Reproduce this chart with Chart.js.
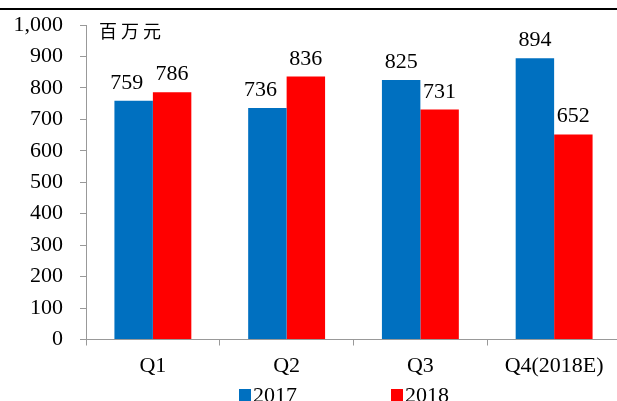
<!DOCTYPE html>
<html>
<head>
<meta charset="utf-8">
<script src="https://cdn.jsdelivr.net/npm/chart.js@4.4.0/dist/chart.umd.min.js"></script>
<style>
  html, body { margin: 0; padding: 0; background: #fff; overflow: hidden; }
  #wrap { position: relative; width: 617px; height: 401px; overflow: hidden; }
  #topline { position: absolute; left: 0; top: 8px; width: 617px; height: 2px; background: #000; }
  #chart { position: absolute; left: 0; top: 0; }
</style>
</head>
<body>
<div id="wrap">
  <canvas id="chart" width="630" height="415"></canvas>
  <div id="topline"></div>
</div>
<script>
const categories = ["Q1", "Q2", "Q3", "Q4(2018E)"];
const values2017 = [759, 736, 825, 894];
const values2018 = [786, 836, 731, 652];
const yTicks = [0, 100, 200, 300, 400, 500, 600, 700, 800, 900, 1000];
const unitLabel = "百万元";

// the report nudged a couple of labels left so they don't touch
const labelShift2017 = [-7, -7, 0, 0];

const serif = "'Liberation Serif', 'Times New Roman', serif";
const axisColor = "#999";

// value labels over each bar
const barLabels = {
  id: "barLabels",
  afterDatasetsDraw(chart) {
    const ctx = chart.ctx;
    ctx.save();
    ctx.font = "22px " + serif;
    ctx.fillStyle = "#000";
    ctx.textAlign = "center";
    ctx.textBaseline = "alphabetic";
    chart.data.datasets.forEach((ds, i) => {
      chart.getDatasetMeta(i).data.forEach((bar, j) => {
        const dx = i === 0 ? labelShift2017[j] : 0;
        ctx.fillText(ds.data[j], bar.x + dx, bar.y - 12);
      });
    });
    ctx.restore();
  }
};

// unit text in the corner + legend at the bottom
const extras = {
  id: "extras",
  afterDraw(chart) {
    const ctx = chart.ctx;
    const area = chart.chartArea;
    ctx.save();
    ctx.fillStyle = "#000";
    ctx.font = "18px 'Noto Sans CJK SC'";
    ctx.textBaseline = "middle";
    ctx.textAlign = "left";
    [...unitLabel].forEach((ch, k) => {
      ctx.fillText(ch, area.left + 13 + k * 22, area.top + 6);
    });

    ctx.font = "22px " + serif;
    ctx.textBaseline = "alphabetic";
    const startX = [239, 391];
    chart.data.datasets.forEach((ds, i) => {
      ctx.fillStyle = ds.backgroundColor;
      ctx.fillRect(startX[i], 389, 12, 12);
      ctx.fillStyle = "#000";
      ctx.fillText(ds.label, startX[i] + 14, 401.5);
    });
    ctx.restore();
  }
};

new Chart(document.getElementById("chart"), {
  type: "bar",
  data: {
    labels: categories,
    datasets: [
      { label: "2017", data: values2017, backgroundColor: "#0070C0" },
      { label: "2018", data: values2018, backgroundColor: "#FF0000" }
    ]
  },
  options: {
    responsive: false,
    animation: false,
    events: [],
    layout: { padding: { left: 0, right: 9, top: 25, bottom: 35.5 } },
    datasets: {
      bar: { barPercentage: 1, categoryPercentage: 0.575 }
    },
    plugins: {
      legend: { display: false },
      tooltip: { enabled: false }
    },
    scales: {
      x: {
        grid: { drawOnChartArea: false, color: axisColor, tickLength: 6, offset: true },
        border: { color: axisColor, width: 1 },
        ticks: { color: "#000", font: { family: serif, size: 22 }, padding: 8 },
        afterFit(scale) { scale.height = 40; }
      },
      y: {
        min: 0,
        max: 1000,
        afterBuildTicks(scale) { scale.ticks = yTicks.map(v => ({ value: v })); },
        grid: { drawOnChartArea: false, color: axisColor, tickLength: 6 },
        border: { color: axisColor, width: 1 },
        ticks: {
          color: "#000",
          font: { family: serif, size: 22 },
          padding: 17,
          callback: v => v.toLocaleString("en-US")
        },
        afterFit(scale) {
          scale.width = 86;
          scale.paddingTop = 0;
          scale.paddingBottom = 0;
        }
      }
    }
  },
  plugins: [barLabels, extras]
});
</script>
</body>
</html>
